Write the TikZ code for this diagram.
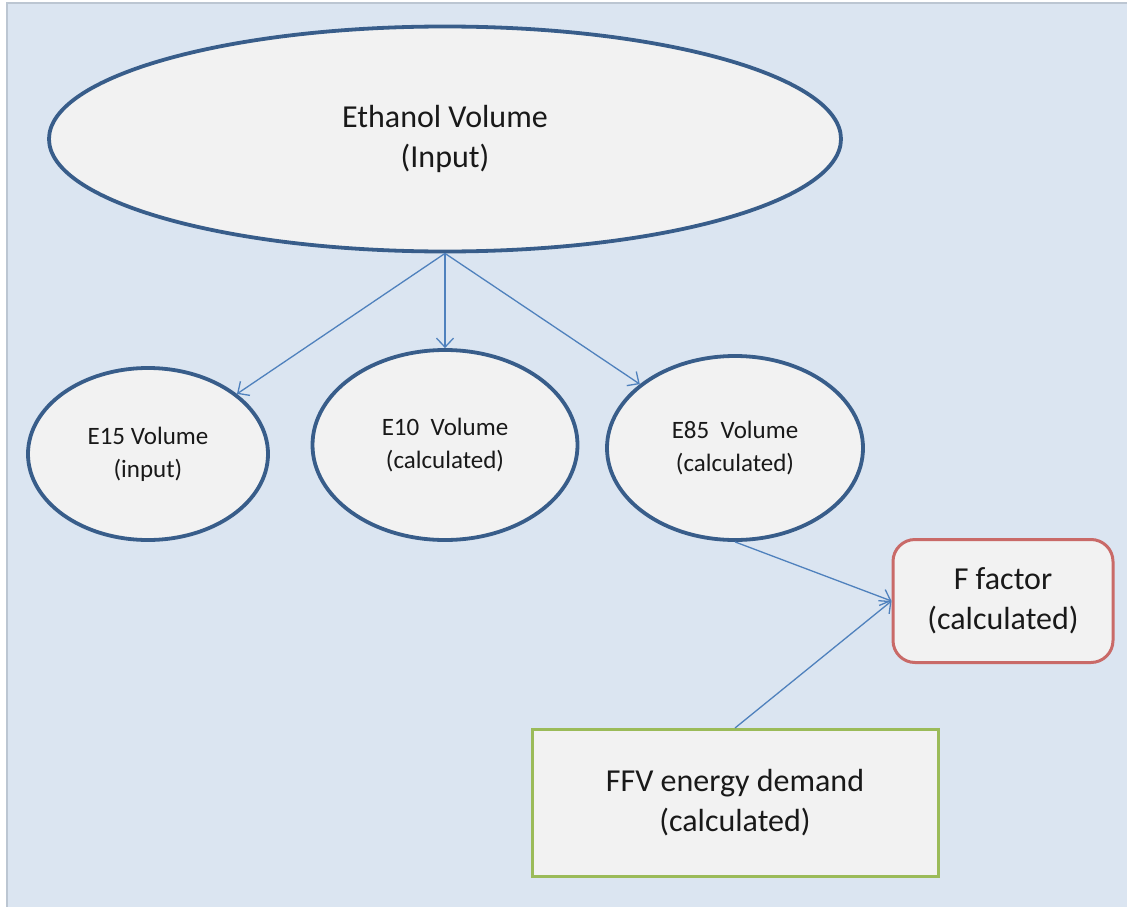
\documentclass[tikz,border=0pt]{standalone}
\usepackage{fontspec}
\setmainfont{Carlito}
\usetikzlibrary{shapes.geometric,arrows.meta}
\definecolor{bgblue}{HTML}{DBE5F1}
\definecolor{bgframe}{HTML}{BCC6D2}
\definecolor{ellfill}{HTML}{F2F2F2}
\definecolor{elldraw}{HTML}{385D8A}
\definecolor{arrowblue}{HTML}{4F81BD}
\definecolor{boxred}{HTML}{C0504D}
\definecolor{boxgreen}{HTML}{9BBB59}
\tikzset{
  bigfont/.style={font=\fontsize{32}{40}\selectfont},
  smallfont/.style={font=\fontsize{25}{33}\selectfont},
  ell/.style={ellipse, draw=elldraw, fill=ellfill, line width=3.8pt, inner sep=0pt, align=center, text=black!90},
  redbox/.style={rectangle, rounded corners=22pt, draw=boxred!85, fill=ellfill, line width=3pt, inner sep=0pt, align=center, text=black!90},
  greenbox/.style={rectangle, draw=boxgreen, fill=ellfill, line width=3pt, inner sep=0pt, align=center, text=black!90},
  link/.style={draw=arrowblue, line width=1.3pt, -{Straight Barb[length=9pt,width=17pt]}},
}
\begin{document}
\begin{tikzpicture}[x=1pt,y=-1pt]
\useasboundingbox (0,0) rectangle (1127,907);
\fill[white] (0,0) rectangle (1127,907);
\draw[bgframe, fill=bgblue, line width=1.5pt] (7,3) rectangle (1130,910);

\node[ell, bigfont, minimum width=792pt, minimum height=225pt] (eth) at (445,139) {Ethanol Volume\\(Input)};
\node[ell, smallfont, minimum width=240pt, minimum height=172pt] (e15) at (148,454) {E15 Volume\\(input)};
\node[ell, smallfont, minimum width=265pt, minimum height=190pt] (e10) at (445,445) {E10\ \ Volume\\(calculated)};
\node[ell, smallfont, minimum width=256pt, minimum height=184pt] (e85) at (735,448) {E85\ \ Volume\\(calculated)};
\node[redbox, bigfont, minimum width=220pt, minimum height=123pt] (ff) at (1003,601) {F factor\\(calculated)};
\node[greenbox, bigfont, minimum width=406pt, minimum height=147pt] (ffv) at (735,803) {FFV energy demand\\(calculated)};

\draw[link] (eth.south) -- (e15);
\draw[link] (eth.south) -- (e10.north);
\draw[link] (eth.south) -- (e85);
\draw[link] (e85.south) -- (ff.west);
\draw[link] (ffv.north) -- (ff.west);
\end{tikzpicture}
\end{document}
